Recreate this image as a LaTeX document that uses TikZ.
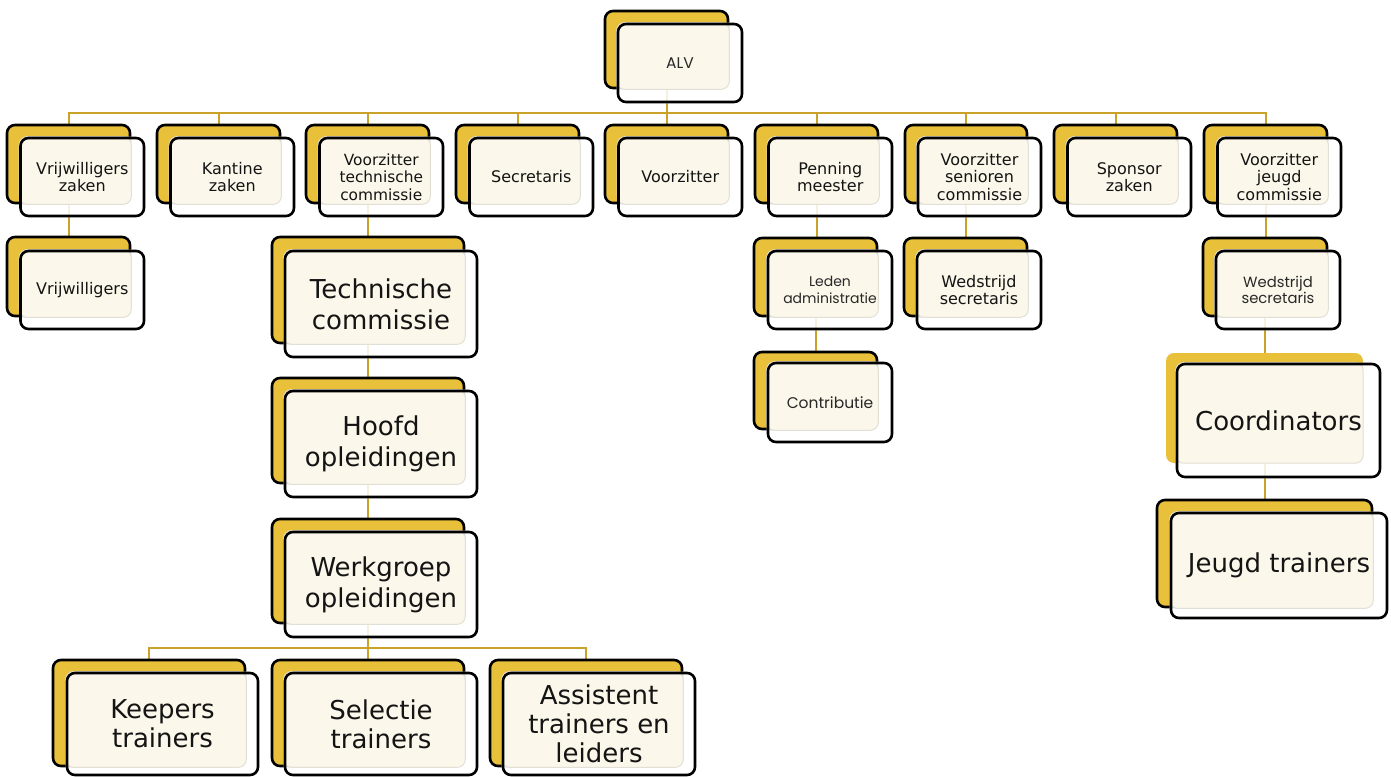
\documentclass[tikz,border=0pt]{standalone}
\usepackage{fontspec}
\setmainfont{DejaVu Sans}
\newfontfamily\gothic{Poppins}
\usetikzlibrary{fit}
\definecolor{goldfill}{RGB}{233,192,58}
\definecolor{cream}{RGB}{251,247,234}
\definecolor{linegold}{RGB}{201,162,39}
\definecolor{shadeedge}{RGB}{226,223,214}
\definecolor{gothtext}{RGB}{40,40,40}
\pgfdeclarelayer{bgl}\pgfdeclarelayer{goldl}\pgfdeclarelayer{filll}
\pgfsetlayers{bgl,goldl,filll,main}
\tikzset{
 gbox/.style={rectangle, rounded corners=8, fill=goldfill, draw=black, line width=2.6, inner sep=0},
 gboxplain/.style={rectangle, rounded corners=8, fill=goldfill, inner sep=0},
 fbox/.style={rectangle, rounded corners=8, draw=black, line width=2.6, inner sep=0, align=center, text=black!92},
 conn/.style={draw=linegold, line width=2},
 tsmall/.style={font=\fontsize{16}{17.5}\selectfont},
 tsmalltech/.style={font=\fontsize{15.4}{17.5}\selectfont},
 tgoth/.style={font=\gothic\fontsize{14}{16.5}\selectfont, text=gothtext},
 tgothm/.style={font=\gothic\fontsize{14.8}{16.5}\selectfont, text=gothtext},
 tgothl/.style={font=\gothic\fontsize{15.5}{17}\selectfont, text=gothtext},
 tbig/.style={font=\fontsize{26}{31}\selectfont},
 tbigb/.style={font=\fontsize{26}{29}\selectfont},
}
% #1 name, #2 gold style, #3 gold corners, #4-#7 front x1,y1,x2,y2, #8 text style, #9 text
\newcommand\orgbox[9]{%
 \begin{pgfonlayer}{goldl}\node[#2, fit={#3}] (#1g) {};\end{pgfonlayer}
 \node[fbox, #8, minimum width={#6-#4}, minimum height={#7-#5}] (#1) at ({(#4+#6)/2},{(#5+#7)/2}) {#9};
 \begin{pgfonlayer}{filll}
  \fill[white, opacity=.85, rounded corners=8] (#1.north west) rectangle (#1.south east);
  \filldraw[fill=cream, draw=shadeedge, line width=1, rounded corners=8] (#1.north west) rectangle (#1g.south east);
 \end{pgfonlayer}}
\begin{document}
\begin{tikzpicture}[x=1pt,y=-1pt]
\useasboundingbox (0,0) rectangle (1391,776);
% top
\orgbox{alv}{gbox}{(605,11) (728,88)}{618}{24}{742}{102}{tgothl}{ALV}
% row 1
\orgbox{vz}{gbox}{(7,125) (130,203)}{20.5}{138}{144}{216}{tsmall}{Vrijwilligers\\zaken}
\orgbox{kz}{gbox}{(157,125) (280,203)}{170.5}{138}{294}{216}{tsmall}{Kantine\\zaken}
\orgbox{vt}{gbox}{(306,125) (429,203)}{319.5}{138}{443}{216}{tsmalltech}{Voorzitter\\technische\\commissie}
\orgbox{sec}{gbox}{(456,125) (579,203)}{469.5}{138}{593}{216}{tsmall}{Secretaris}
\orgbox{vzt}{gbox}{(605,125) (728,203)}{618.5}{138}{742}{216}{tsmall}{Voorzitter}
\orgbox{pm}{gbox}{(755,125) (878,203)}{768.5}{138}{892}{216}{tsmall}{Penning\\meester}
\orgbox{vs}{gbox}{(905,125) (1027,203)}{918}{138}{1041}{216}{tsmall}{Voorzitter\\senioren\\commissie}
\orgbox{sz}{gbox}{(1054,125) (1177,203)}{1067.5}{138}{1191}{216}{tsmall}{Sponsor\\zaken}
\orgbox{vj}{gbox}{(1204,125) (1327,203)}{1217.5}{138}{1341}{216}{tsmall}{Voorzitter\\jeugd\\commissie}
% row 2 and below
\orgbox{vr}{gbox}{(7,237) (130,316)}{20.5}{251}{144}{329}{tsmall}{Vrijwilligers}
\orgbox{tc}{gbox}{(272,237) (464,343)}{285}{251}{477}{357}{tbig}{Technische\\commissie}
\orgbox{ho}{gbox}{(272,378) (464,483)}{285}{391}{477}{497}{tbig}{Hoofd\\opleidingen}
\orgbox{wg}{gbox}{(272,519) (464,623)}{285}{532}{477}{637}{tbig}{Werkgroep\\opleidingen}
\orgbox{kt}{gbox}{(53,660) (245,766)}{67}{673}{258}{775}{tbigb}{Keepers\\trainers}
\orgbox{st}{gbox}{(272,660) (464,766)}{285}{673}{477}{775}{tbigb}{Selectie\\trainers}
\orgbox{at}{gbox}{(490,660) (682,766)}{503}{673}{695}{775}{tbigb}{Assistent\\trainers en\\leiders}
\orgbox{la}{gbox}{(754,238) (877,316)}{768}{251}{892}{329}{tgoth}{Leden\\administratie}
\orgbox{co}{gbox}{(754,352) (877,429)}{768}{363}{892}{442}{tgothl}{Contributie}
\orgbox{ws}{gbox}{(904,238) (1027,316)}{917}{251}{1041}{329}{tsmall}{Wedstrijd\\secretaris}
\orgbox{wj}{gbox}{(1203,238) (1327,316)}{1216}{251}{1340}{329}{tgothm}{Wedstrijd\\secretaris}
\orgbox{cd}{gboxplain}{(1166,353) (1363,463)}{1177}{364}{1380}{477}{tbig}{Coordinators}
\orgbox{jt}{gbox}{(1157,500) (1372,607)}{1171}{513}{1387}{618}{tbig}{Jeugd trainers}
% connectors
\coordinate (bus1) at (0,113);
\coordinate (bus2) at (0,648);
\begin{pgfonlayer}{bgl}
\foreach \n in {vz,kz,vt,sec,vzt,pm,vs,sz,vj}
  \draw[conn] (alvg.south) |- (bus1 -| \n g.north) -- (\n g.north);
\foreach \n in {kt,st,at}
  \draw[conn] (wgg.south) |- (bus2 -| \n g.north) -- (\n g.north);
\draw[conn] (vzg.south) -- (vzg.south |- vrg.north);
\draw[conn] (vtg.south) -- (vtg.south |- tcg.north);
\draw[conn] (tcg.south) -- (tcg.south |- hog.north);
\draw[conn] (hog.south) -- (hog.south |- wgg.north);
\draw[conn] (pmg.south) -- (pmg.south |- lag.north);
\draw[conn] (lag.south) -- (lag.south |- cog.north);
\draw[conn] (vsg.south) -- (vsg.south |- wsg.north);
\draw[conn] (vjg.south) -- (vjg.south |- wjg.north);
\draw[conn] (wjg.south) -- (wjg.south |- cdg.north);
\draw[conn] (cdg.south) -- (cdg.south |- jtg.north);
\end{pgfonlayer}
\end{tikzpicture}
\end{document}
